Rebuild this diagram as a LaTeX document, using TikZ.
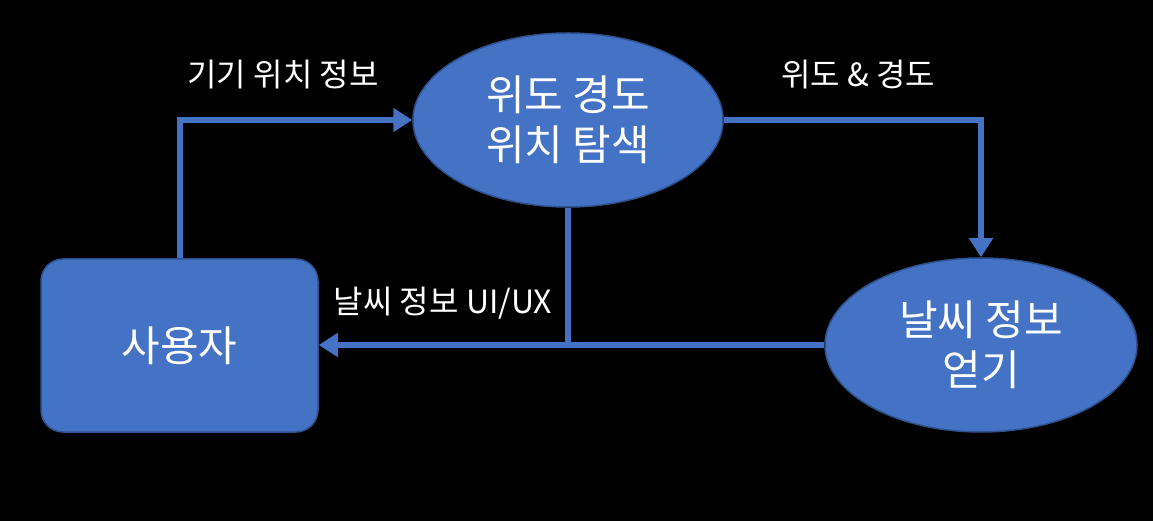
\documentclass[tikz,border=0pt]{standalone}
\usepackage{fontspec}
\setmainfont{Noto Sans CJK KR}
\usetikzlibrary{shapes.geometric,arrows.meta}
\definecolor{fillblue}{HTML}{4472C4}
\definecolor{edgeblue}{HTML}{2F528F}
\begin{document}
\begin{tikzpicture}[x=1pt,y=-1pt,
  shapebox/.style={fill=fillblue,draw=edgeblue,line width=1.5pt,text=white,font=\fontsize{42}{50}\selectfont,align=center,inner sep=0pt},
  ell/.style={shapebox,ellipse,minimum width=310pt,minimum height=174pt},
  conn/.style={draw=fillblue,line width=5.5pt},
  arr/.style={conn,-{Triangle[length=19pt,width=23pt]}},
  lbl/.style={text=white,font=\fontsize{32}{38}\selectfont,inner sep=0pt}]
\fill[black] (0,0) rectangle (1153,521);
\useasboundingbox (0,0) rectangle (1153,521);
\node[shapebox,rectangle,rounded corners=22pt,minimum width=277pt,minimum height=173pt] (user) at (179.5,345.5) {사용자};
\node[ell] (loc) at (568,120) {위도 경도\\위치 탐색};
\node[ell,minimum width=312pt] (wx) at (981,345) {날씨 정보\\얻기};
\coordinate (j1) at (180,120);
\coordinate (j2) at (981,120);
\coordinate (j3) at (568,345);
\draw[conn] (loc.south) -- (j3);
\draw[arr] (user.north -| j1) -- (j1) -- (loc.west);
\draw[arr] (loc.east) -- (j2) -- (wx.north);
\draw[arr] (wx.west) -- (user.east |- wx.west);
\node[lbl] (l1) at (283,75) {기기 위치 정보};
\node[lbl] (l2) at (858,75) {위도 \& 경도};
\node[lbl] (l3) at (443,303) {날씨 정보 UI/UX};
\end{tikzpicture}
\end{document}
